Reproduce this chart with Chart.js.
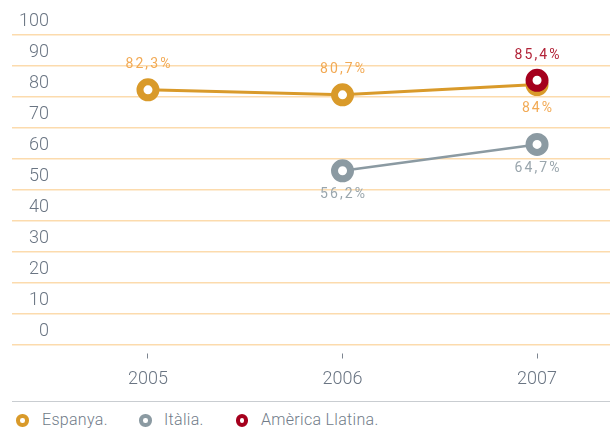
<!DOCTYPE html>
<html><head><meta charset="utf-8">
<script src="https://cdn.jsdelivr.net/npm/chart.js@4/dist/chart.umd.min.js"></script>
<style>
html,body{margin:0;padding:0;background:#fff;}
#wrap{position:relative;width:610px;height:429px;overflow:hidden;background:#fff;}
#c{position:absolute;left:0;top:0;}
#sep{position:absolute;left:12px;top:401px;width:598px;height:0;border-top:1.5px solid #c9cdd1;}
.item{position:absolute;top:409px;height:22px;font:300 16px 'Roboto','Open Sans',sans-serif;color:#717c89;line-height:22px;white-space:nowrap;letter-spacing:0.3px;}
.mk{position:absolute;top:5px;width:12.5px;height:12.5px;box-sizing:border-box;border-radius:50%;border:4.3px solid;background:#fff;}
.tx{position:absolute;top:0;}
</style>
</head><body>
<div id="wrap">
<canvas id="c" width="610" height="400"></canvas>
<div id="sep"></div>
<div id="legend"></div>
</div>
<script>
const years = [2005, 2006, 2007];
const yTicks = [0, 10, 20, 30, 40, 50, 60, 70, 80, 90, 100];
const seriesNames = ['Espanya.', 'Itàlia.', 'Amèrica Llatina.'];
const espanya = [82.3, 80.7, 84];
const italia = [null, 56.2, 64.7];
const americaLlatina = [null, null, 85.4];

const colors = ['#d99a2a', '#8b9aa2', '#a5001d'];
const labelColors = ['#f2aa55', '#9aa6ad', '#b22338'];
const labelSide = [['above','above','below'], ['below','below','below'], ['above','above','above']];
const seriesData = [espanya, italia, americaLlatina];

function fmt(v){ return String(v).replace('.', ',') + '%'; }

const datasets = seriesData.map((arr, i) => ({
  label: seriesNames[i],
  data: years.map((yr, j) => arr[j] == null ? null : {x: yr, y: arr[j]}).filter(p => p !== null),
  borderColor: colors[i],
  backgroundColor: colors[i],
  borderWidth: i === 0 ? 3 : 2.6,
  pointRadius: 8,
  pointHoverRadius: 8,
  pointBorderWidth: 7,
  pointHoverBorderWidth: 7,
  pointBackgroundColor: '#ffffff',
  pointBorderColor: colors[i],
  tension: 0,
  order: 3 - i
}));

const labelPlugin = {
  id: 'valueLabels',
  afterDatasetsDraw(chart) {
    const ctx = chart.ctx;
    ctx.save();
    ctx.font = "400 14px Roboto, 'Open Sans', sans-serif";
    ctx.textAlign = 'center';
    ctx.textBaseline = 'middle';
    try { ctx.letterSpacing = '2.1px'; } catch(e) {}
    seriesData.forEach((arr, i) => {
      const meta = chart.getDatasetMeta(i);
      const pts = chart.data.datasets[i].data;
      meta.data.forEach((el, k) => {
        const v = pts[k].y;
        const j = years.indexOf(pts[k].x);
        const dy = labelSide[i][j] === 'above' ? -25 : 24;
        ctx.fillStyle = labelColors[i];
        ctx.fillText(fmt(v), el.x + 1, el.y + dy);
      });
    });
    ctx.restore();
  }
};

const axisFont = {family: "Roboto, 'Open Sans', sans-serif", size: 18, weight: '300'};

new Chart(document.getElementById('c'), {
  type: 'line',
  data: { datasets },
  options: {
    responsive: false,
    animation: false,
    devicePixelRatio: 1,
    layout: { autoPadding: false, padding: { top: 35, left: 0, right: 0, bottom: 0 } },
    plugins: { legend: { display: false }, tooltip: { enabled: false } },
    scales: {
      x: {
        type: 'linear',
        min: 2004.522,
        max: 2007.375,
        afterBuildTicks: s => { s.ticks = years.map(v => ({ value: v })); },
        afterFit: s => { s.height = 55; s.paddingLeft = 0; s.paddingRight = 0; },
        ticks: { callback: v => String(v), color: '#6a7583', font: axisFont, padding: 10, maxRotation: 0, autoSkip: false },
        grid: { drawOnChartArea: false, drawTicks: true, tickLength: 14, tickColor: '#7d8590', tickWidth: 1, tickBorderDash: [0, 8.5, 5, 100] },
        border: { display: false }
      },
      y: {
        min: 0,
        max: 100,
        afterBuildTicks: s => { s.ticks = yTicks.map(v => ({ value: v })); },
        afterFit: s => { s.width = 55; s.paddingTop = 0; s.paddingBottom = 0; },
        ticks: { color: '#6a7583', font: axisFont, labelOffset: -14, padding: -37 },
        grid: { color: '#fcdbad', lineWidth: 1.5, tickLength: 43, drawTicks: true },
        border: { display: false }
      }
    }
  },
  plugins: [labelPlugin]
});

const legendPos = [[16, 42], [139, 164], [235.5, 261]];
const lg = document.getElementById('legend');
seriesNames.forEach((n, i) => {
  const it = document.createElement('div');
  it.className = 'item';
  it.style.left = legendPos[i][0] + 'px';
  it.innerHTML = '<div class="mk" style="left:0;border-color:' + colors[i] + '"></div>' +
    '<span class="tx" style="left:' + (legendPos[i][1] - legendPos[i][0]) + 'px">' + n + '</span>';
  lg.appendChild(it);
});
</script>
</body></html>
